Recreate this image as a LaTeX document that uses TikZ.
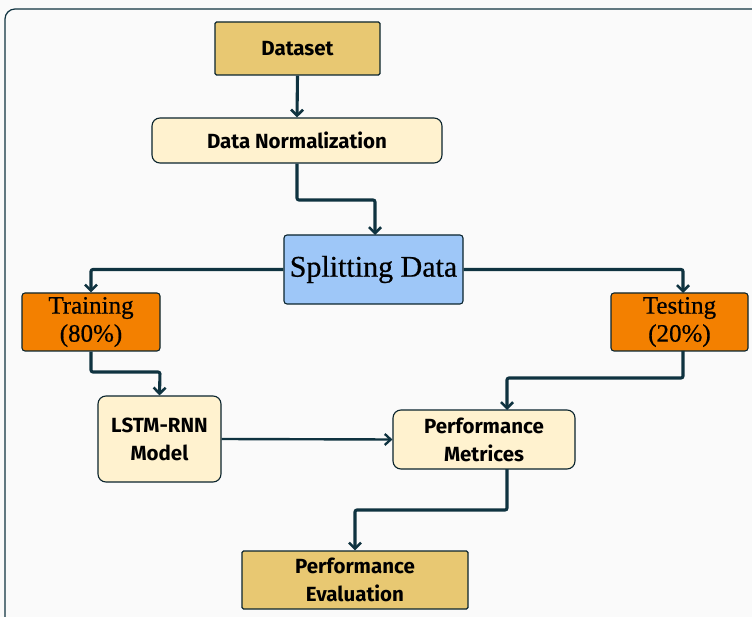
\documentclass[tikz,border=0pt]{standalone}
\usepackage{fontspec}
\setmainfont[FakeBold=0.6]{Liberation Serif}
\newfontfamily\boxfont{Fira Sans}
\usetikzlibrary{arrows.meta}
\definecolor{linec}{HTML}{0F3340}
\definecolor{goldc}{HTML}{E8C872}
\definecolor{creamc}{HTML}{FFF2CF}
\definecolor{bluec}{HTML}{9EC7F8}
\definecolor{orangec}{HTML}{F38000}
\tikzset{
  x=1pt, y=-1pt,
  base/.style={draw=linec!70!black, line width=1.1pt, text=black, align=center, inner sep=0pt},
  goldbox/.style={base, fill=goldc, rounded corners=1.5pt, font=\boxfont\bfseries\fontsize{20.5}{28}\selectfont},
  creambox/.style={base, fill=creamc, rounded corners=8pt, font=\boxfont\bfseries\fontsize{20.5}{28}\selectfont},
  bluebox/.style={base, fill=bluec, rounded corners=3pt, font=\fontsize{30}{34}\selectfont},
  orangebox/.style={base, fill=orangec, rounded corners=3pt, font=\fontsize{25}{28}\selectfont},
  conn/.style={draw=linec, line width=3.1pt, rounded corners=2pt, -{Straight Barb[length=6pt,width=12pt,line width=2.6pt]}},
  thinconn/.style={draw=linec, line width=2.4pt, -{Straight Barb[length=6pt,width=11pt,line width=2.3pt]}}
}
\begin{document}
\begin{tikzpicture}
\useasboundingbox (0,0) rectangle (752,617);
\clip (0,0) rectangle (752,617);
\fill[white!98!black] (0,0) rectangle (752,617);
\draw[linec, line width=1.2pt, rounded corners=10pt] (5,9) rectangle (780,650);

\node[goldbox, minimum width=165pt, minimum height=53pt] (ds) at (297.5,48.5) {Dataset};
\node[creambox, minimum width=290pt, minimum height=45pt] (dn) at (297,140.5) {Data Normalization};
\node[bluebox, minimum width=179pt, minimum height=69pt] (sd) at (373.5,269.5) {Splitting Data};
\node[orangebox, minimum width=138pt, minimum height=58pt] (tr) at (91,322) {Training\\(80\%)};
\node[orangebox, minimum width=137pt, minimum height=58pt] (te) at (679.5,322) {Testing\\(20\%)};
\node[creambox, minimum width=123pt, minimum height=86pt] (lm) at (159.5,439) {LSTM-RNN\\Model};
\node[creambox, minimum width=182pt, minimum height=59pt] (pm) at (484,439.5) {Performance\\Metrices};
\node[goldbox, minimum width=226pt, minimum height=58pt] (pe) at (355,580) {Performance\\Evaluation};

\draw[conn] (ds.south) -- (dn.north);
\draw[conn] (dn.south) -- (297,200) -- (375,200) -- (375,235);
\draw[conn] (sd.west) -- (91,269.5) -- (tr.north);
\draw[conn] (sd.east) -- (683,269.5) -- (683,293);
\draw[conn] (tr.south) -- (91,372) -- (160,372) -- (lm.north);
\draw[conn] (683,351) -- (683,378) -- (507,378) -- (507,410);
\draw[thinconn] (lm.east) -- (pm.west);
\draw[conn] (507,469) -- (507,510) -- (355,510) -- (pe.north);
\end{tikzpicture}
\end{document}
